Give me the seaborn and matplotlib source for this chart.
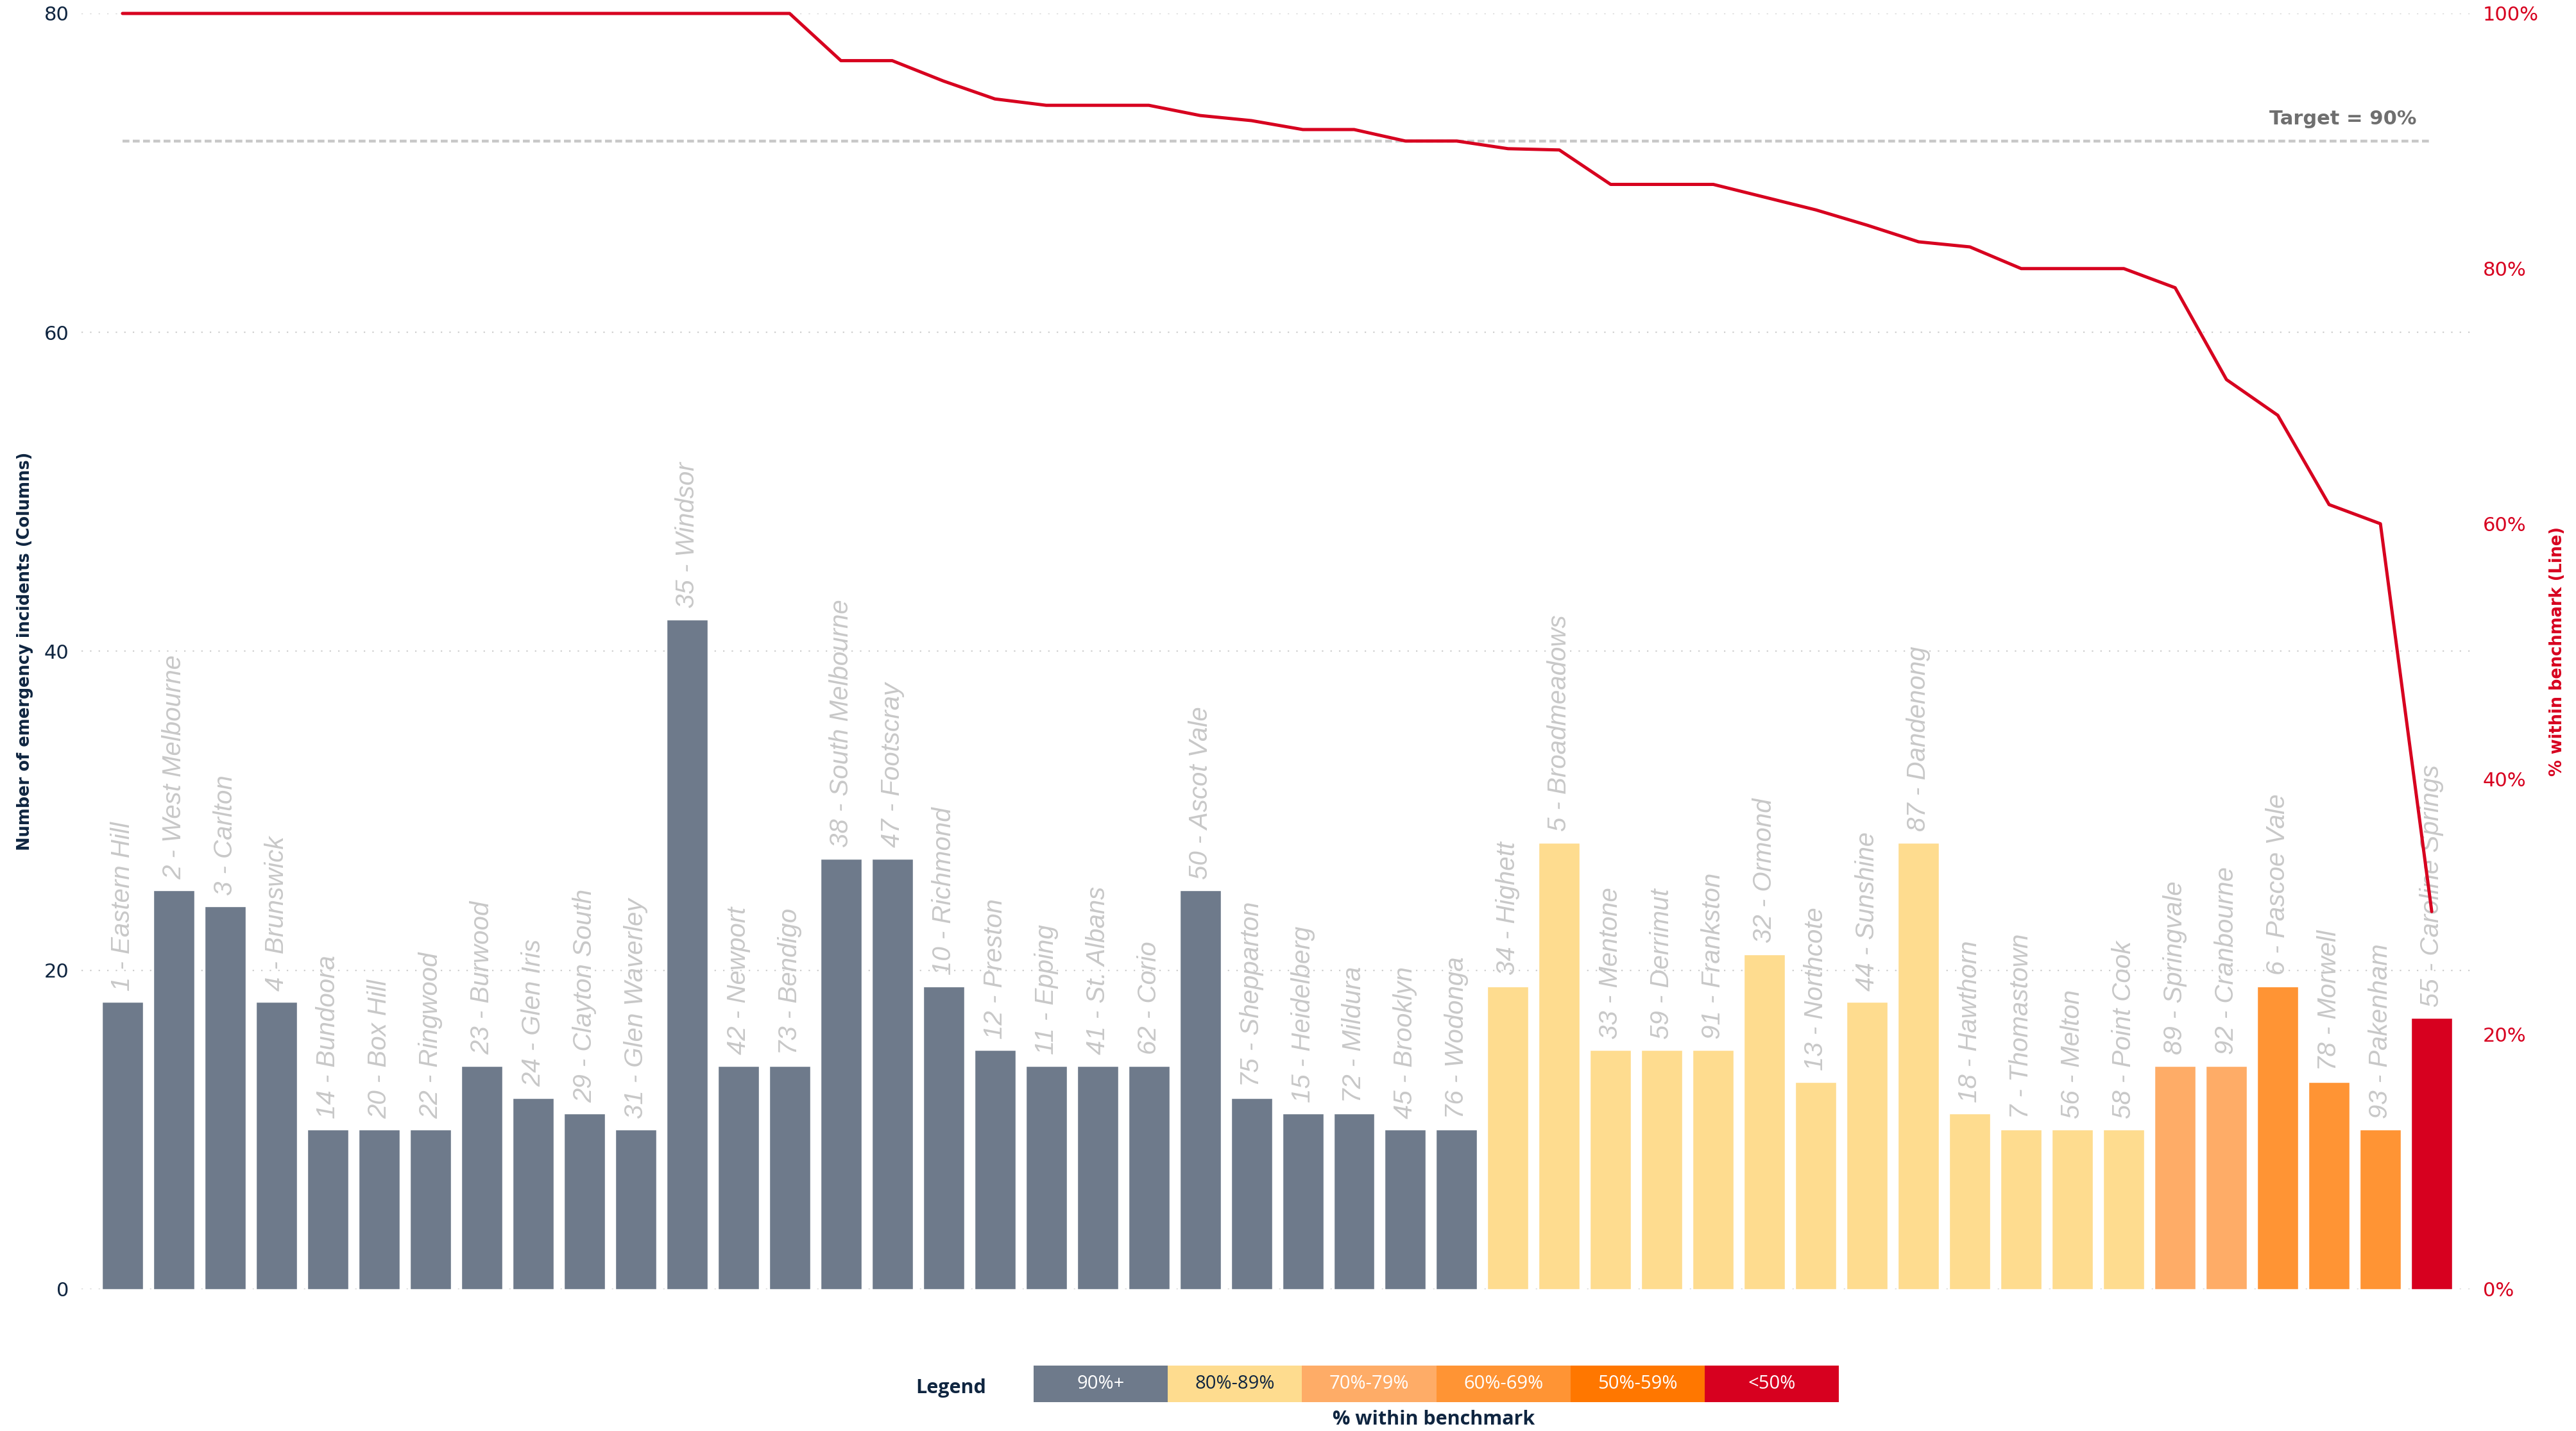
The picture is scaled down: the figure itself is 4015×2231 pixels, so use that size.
import numpy as np
import pandas as pd
import seaborn as sns
import matplotlib.pyplot as plt
from matplotlib import font_manager
from matplotlib.patches import Rectangle

STATIONS = [
    "1 - Eastern Hill", "2 - West Melbourne", "3 - Carlton", "4 - Brunswick",
    "14 - Bundoora", "20 - Box Hill", "22 - Ringwood", "23 - Burwood",
    "24 - Glen Iris", "29 - Clayton South", "31 - Glen Waverley", "35 - Windsor",
    "42 - Newport", "73 - Bendigo", "38 - South Melbourne", "47 - Footscray",
    "10 - Richmond", "12 - Preston", "11 - Epping", "41 - St. Albans",
    "62 - Corio", "50 - Ascot Vale", "75 - Shepparton", "15 - Heidelberg",
    "72 - Mildura", "45 - Brooklyn", "76 - Wodonga", "34 - Highett",
    "5 - Broadmeadows", "33 - Mentone", "59 - Derrimut", "91 - Frankston",
    "32 - Ormond", "13 - Northcote", "44 - Sunshine", "87 - Dandenong",
    "18 - Hawthorn", "7 - Thomastown", "56 - Melton", "58 - Point Cook",
    "89 - Springvale", "92 - Cranbourne", "6 - Pascoe Vale", "78 - Morwell",
    "93 - Pakenham", "55 - Caroline Springs",
]
INCIDENTS = [18, 25, 24, 18, 10, 10, 10, 14, 12, 11, 10, 42, 14, 14, 27, 27,
             19, 15, 14, 14, 14, 25, 12, 11, 11, 10, 10, 19, 28, 15, 15, 15,
             21, 13, 18, 28, 11, 10, 10, 10, 14, 14, 19, 13, 10, 17]
PCT_WITHIN = [100, 100, 100, 100, 100, 100, 100, 100, 100, 100, 100, 100, 100, 100,
              96.3, 96.3, 94.7, 93.3, 92.8, 92.8, 92.8, 92.0, 91.6, 90.9, 90.9,
              90.0, 90.0, 89.4, 89.3, 86.6, 86.6, 86.6, 85.6, 84.6, 83.4, 82.1,
              81.7, 80.0, 80.0, 80.0, 78.5, 71.3, 68.5, 61.5, 60.0, 29.6]

BAND_LABELS = ["90%+", "80%-89%", "70%-79%", "60%-69%", "50%-59%", "<50%"]
BAND_COLORS = ["#6e7a8b", "#fedc8f", "#feac67", "#ff9434", "#ff7700", "#d7001f"]
BAND_TEXT = ["white", "#0f2540", "white", "white", "white", "white"]
TARGET = 90

NAVY = "#0f2540"
RED = "#d7001f"


def band_of(p):
    if p >= 90:
        return BAND_LABELS[0]
    if p >= 80:
        return BAND_LABELS[1]
    if p >= 70:
        return BAND_LABELS[2]
    if p >= 60:
        return BAND_LABELS[3]
    if p >= 50:
        return BAND_LABELS[4]
    return BAND_LABELS[5]


installed = {f.name for f in font_manager.fontManager.ttflist}
NARROW = "Liberation Sans Narrow" if "Liberation Sans Narrow" in installed else "DejaVu Sans"
TICK_SIZE = 26 if NARROW != "DejaVu Sans" else 22

df = pd.DataFrame({"station": STATIONS, "incidents": INCIDENTS, "pct": PCT_WITHIN})
df["band"] = df["pct"].apply(band_of)
df["pos"] = np.arange(len(df))

sns.set_theme(style="white")
plt.rcParams["font.family"] = ["DejaVu Sans"]

fig = plt.figure(figsize=(40.16, 22.31), dpi=100)
ax = fig.add_axes([0.0316, 0.0991, 0.9271, 0.8915])

sns.barplot(data=df, x="station", y="incidents", hue="band", order=STATIONS,
            hue_order=BAND_LABELS, palette=dict(zip(BAND_LABELS, BAND_COLORS)),
            dodge=False, width=0.8, legend=False, saturation=1, ax=ax, zorder=2)

# rotated station labels above bars
for i, row in df.iterrows():
    ax.text(i, row["incidents"] + 0.7, row["station"], rotation=90, ha="center",
            va="bottom", fontsize=29, style="italic", color="#c8c8c8",
            family="Liberation Sans", zorder=3)

ax.set_xlim(-0.8, len(df) - 0.25)
ax.set_ylim(0, 80)
ax.set_yticks([0, 20, 40, 60, 80])
ax.set_xticks([])
ax.set_xlabel("")
ax.set_ylabel("Number of emergency incidents (Columns)", fontsize=18.5,
              fontweight="bold", color=NAVY, labelpad=12)
ax.tick_params(axis="y", length=0, pad=14, labelsize=TICK_SIZE, labelcolor=NAVY)
for lbl in ax.get_yticklabels():
    lbl.set_family(NARROW)
ax.yaxis.grid(True, linestyle=(0, (1, 5)), linewidth=1.6, color="#cfcfcf", zorder=0)
ax.set_axisbelow(True)
for s in ax.spines.values():
    s.set_visible(False)

# target line
ax.hlines(TARGET * 0.8, 0, len(df) - 1, colors="#c8c8c8", linewidth=3.2,
          linestyles=(0, (2.4, 1.2)), zorder=1)
ax.text(44.7, 73.4, f"Target = {TARGET}%", ha="right", va="center", fontsize=22,
        fontweight="bold", color="#6f6f6f")

# line on secondary axis
ax2 = ax.twinx()
sns.lineplot(data=df, x="pos", y="pct", color=RED, linewidth=3.6, ax=ax2,
             clip_on=False, zorder=4)
ax2.set_xlim(ax.get_xlim())
ax2.set_ylim(0, 100)
ax2.set_yticks([0, 20, 40, 60, 80, 100])
ax2.set_yticklabels([f"{v}%" for v in [0, 20, 40, 60, 80, 100]])
ax2.set_ylabel("% within benchmark (Line)", fontsize=18.5, fontweight="bold",
               color=RED, labelpad=12)
ax2.tick_params(axis="y", length=0, pad=14, labelsize=TICK_SIZE, labelcolor=RED)
for lbl in ax2.get_yticklabels():
    lbl.set_family(NARROW)
ax2.grid(False)
ax2.set_xlabel("")
for s in ax2.spines.values():
    s.set_visible(False)

# legend strip
box_x0, box_y0, box_w, box_h = 0.4011, 0.0202, 0.0521, 0.0256
for k, (lab, col, tc) in enumerate(zip(BAND_LABELS, BAND_COLORS, BAND_TEXT)):
    x0 = box_x0 + k * box_w
    fig.patches.append(Rectangle((x0, box_y0), box_w, box_h, transform=fig.transFigure,
                                 facecolor=col, edgecolor="none"))
    fig.text(x0 + box_w / 2, box_y0 + box_h / 2, lab, ha="center", va="center",
             fontsize=21, color=tc, family="Open Sans")
fig.text(0.369, 0.030, "Legend", ha="center", va="center", fontsize=22,
         fontweight="bold", color=NAVY, family="Open Sans")
fig.text(0.5565, 0.008, "% within benchmark", ha="center", va="center", fontsize=22,
         fontweight="bold", color=NAVY, family="Open Sans")

fig.savefig("out.png", dpi=100, facecolor="white")
